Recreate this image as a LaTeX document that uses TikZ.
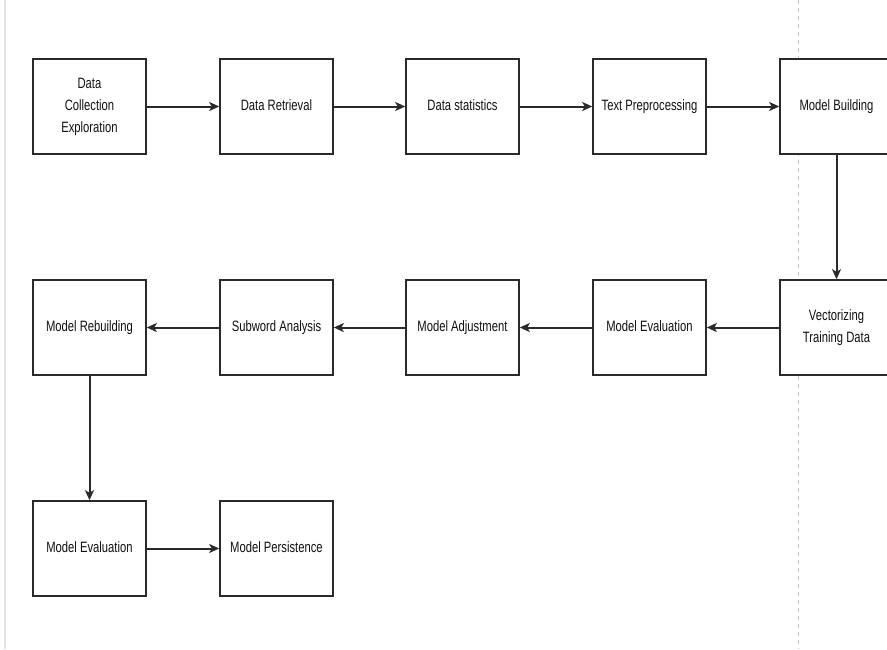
\documentclass[tikz,border=0pt]{standalone}
\usepackage{fontspec}
\setmainfont{Liberation Sans}
\usepackage{graphicx}
\usetikzlibrary{arrows.meta}
\definecolor{edge}{HTML}{2A2A2A}
\definecolor{txt}{HTML}{111111}
\newcommand{\nt}[1]{\scalebox{0.75}[1]{\begin{tabular}{@{}c@{}}#1\end{tabular}}}
\tikzset{
  stepbox/.style={draw=edge, line width=1.6pt, fill=white, minimum width=113pt, minimum height=95pt, inner sep=0pt, text=txt, font=\fontsize{15}{22}\selectfont},
  flow/.style={draw=edge, line width=2pt, -{Stealth[length=10pt,width=9pt,inset=2.5pt]}},
}
\begin{document}
\begin{tikzpicture}[x=1pt,y=-1pt]
\useasboundingbox (0,0) rectangle (887,649);
\clip (0,0) rectangle (887,649);
\fill[white] (0,0) rectangle (887,649);
\draw[draw=black!10, line width=1.5pt] (5,0) -- (5,649);
\draw[draw=black!22, line width=1pt, dash pattern=on 4pt off 4pt] (798,0) -- (798,649);
% row 1
\node[stepbox] (dc) at (89.5,106.5) {\nt{Data\\Collection\\Exploration}};
\node[stepbox] (dr) at (276.5,106.5) {\nt{Data Retrieval}};
\node[stepbox] (ds) at (462.5,106.5) {\nt{Data statistics}};
\node[stepbox] (tp) at (649.5,106.5) {\nt{Text Preprocessing}};
\node[stepbox] (mb) at (836.5,106.5) {\nt{Model Building}};
% row 2
\node[stepbox] (mr) at (89.5,327.5) {\nt{Model Rebuilding}};
\node[stepbox] (sa) at (276.5,327.5) {\nt{Subword Analysis}};
\node[stepbox] (ma) at (462.5,327.5) {\nt{Model Adjustment}};
\node[stepbox] (me) at (649.5,327.5) {\nt{Model Evaluation}};
\node[stepbox] (vt) at (836.5,327.5) {\nt{Vectorizing\\Training Data}};
% row 3
\node[stepbox] (me2) at (89.5,548.5) {\nt{Model Evaluation}};
\node[stepbox] (mp) at (276.5,548.5) {\nt{Model Persistence}};
% connectors
\draw[flow] (dc) -- (dr);
\draw[flow] (dr) -- (ds);
\draw[flow] (ds) -- (tp);
\draw[flow] (tp) -- (mb);
\draw[flow] (mb) -- (vt);
\draw[flow] (vt) -- (me);
\draw[flow] (me) -- (ma);
\draw[flow] (ma) -- (sa);
\draw[flow] (sa) -- (mr);
\draw[flow] (mr) -- (me2);
\draw[flow] (me2) -- (mp);
\end{tikzpicture}
\end{document}
